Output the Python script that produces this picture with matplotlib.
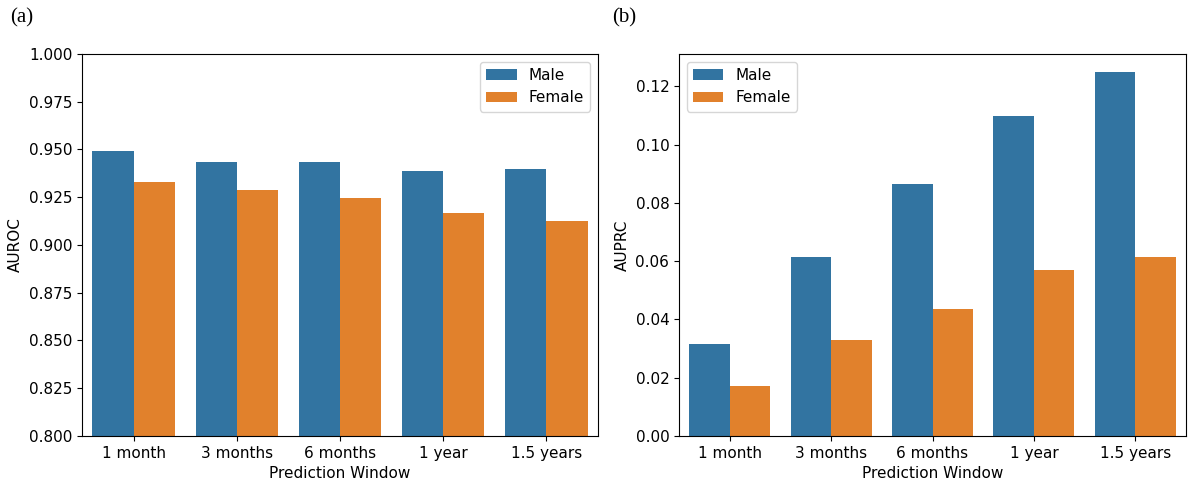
import pandas as pd
import seaborn as sns
import matplotlib.pyplot as plt

windows = ["1 month", "3 months", "6 months", "1 year", "1.5 years"]
auroc_male = [0.949, 0.9433, 0.9433, 0.939, 0.9397]
auroc_female = [0.9329, 0.9287, 0.9245, 0.917, 0.9125]
auprc_male = [0.0316, 0.0614, 0.0864, 0.110, 0.1249]
auprc_female = [0.0172, 0.0329, 0.0436, 0.0569, 0.0614]

auroc_df = pd.DataFrame({
    "Prediction Window": windows * 2,
    "AUROC": auroc_male + auroc_female,
    "Sex": ["Male"] * 5 + ["Female"] * 5,
})
auprc_df = pd.DataFrame({
    "Prediction Window": windows * 2,
    "AUPRC": auprc_male + auprc_female,
    "Sex": ["Male"] * 5 + ["Female"] * 5,
})

plt.rcParams["font.size"] = 11

fig = plt.figure(figsize=(11.88, 4.86), dpi=100)
W, H = 1188, 486
ax1 = fig.add_axes([82 / W, (H - 436) / H, (598 - 82) / W, (436 - 54) / H])
ax2 = fig.add_axes([679 / W, (H - 436) / H, (1186 - 679) / W, (436 - 54) / H])

# (a) AUROC
sns.barplot(data=auroc_df, x="Prediction Window", y="AUROC", hue="Sex", ax=ax1)
ax1.set_ylim(0.8, 1.0)
ax1.legend(loc="upper right")

# (b) AUPRC
sns.barplot(data=auprc_df, x="Prediction Window", y="AUPRC", hue="Sex", ax=ax2)
ax2.set_yticks([0.0, 0.02, 0.04, 0.06, 0.08, 0.10, 0.12])
ax2.legend(loc="upper left")

fig.text(10 / W, 1 - 18 / H, "(a)", fontsize=15, family="Liberation Serif", va="center")
fig.text(612 / W, 1 - 18 / H, "(b)", fontsize=15, family="Liberation Serif", va="center")

fig.savefig("out.png", dpi=100)
